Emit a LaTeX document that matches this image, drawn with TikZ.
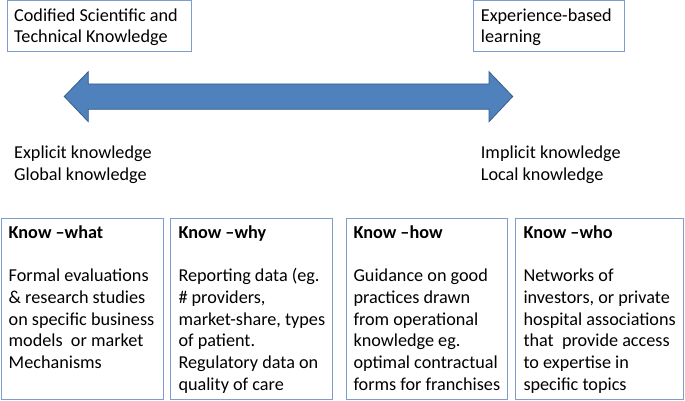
\documentclass[tikz,border=0pt]{standalone}
\usepackage{fontspec}
\setmainfont{Carlito}
\usepackage{xcolor}
\usepackage{tikz}

\definecolor{arrowblue}{RGB}{79,129,189}
\definecolor{arrowedge}{RGB}{56,93,138}
\definecolor{boxline}{RGB}{126,156,204}

\begin{document}
\begin{tikzpicture}[
  x=1pt, y=-1pt,
  frame/.style={draw=boxline, line width=0.8pt, anchor=north west, inner sep=0pt},
  txt/.style={anchor=north west, inner sep=0pt, align=left,
              font=\fontsize{18.2}{21.7}\selectfont},
  lbl/.style={anchor=north west, inner sep=0pt, align=left,
              font=\fontsize{18.2}{21.7}\selectfont}
]
\useasboundingbox (0,0) rectangle (685,401);

%% Top boxes
\node[frame, minimum width=184pt, minimum height=51pt] (cst) at (6.7,0.3) {};
\node[txt] (cst-t) at ([shift={(7.3,5.5)}]cst.north west)
  {\strut Codified Scientific and\\Technical Knowledge};

\node[frame, minimum width=151.3pt, minimum height=51pt] (ebl) at (472.7,0.3) {};
\node[txt] (ebl-t) at ([shift={(8,5.5)}]ebl.north west)
  {\strut Experience-based\\learning};

%% Double arrow
\filldraw[fill=arrowblue, draw=arrowedge, line width=0.8pt]
  (64.3,96.5) -- (88.3,71.7) -- (88.3,84) -- (489,84) -- (489,71.7)
  -- (512.7,96.5) -- (489,121.7) -- (489,109.3) -- (88.3,109.3)
  -- (88.3,121.7) -- cycle;

%% Side labels
\node[lbl] (expl) at (14,143.1) {\strut Explicit knowledge\\Global knowledge};
\node[lbl] (impl) at (480.7,143.1) {\strut Implicit knowledge\\Local knowledge};

%% Bottom boxes
\node[frame, minimum width=162pt, minimum height=181.5pt]   (kwhat) at (0.8,217.7) {};
\node[frame, minimum width=161.7pt, minimum height=181.5pt] (kwhy)  at (170,217.7) {};
\node[frame, minimum width=160.7pt, minimum height=181.5pt] (khow)  at (346,217.7) {};
\node[frame, minimum width=168.4pt, minimum height=181.5pt] (kwho)  at (515,217.7) {};

\node[txt] (kwhat-t) at ([shift={(7.7,5.4)}]kwhat.north west)
  {\strut\textbf{Know –what}\\[21.7pt]
   Formal evaluations\\\& research studies\\on specific business\\
   models\ \ or market\\Mechanisms};
\node[txt] (kwhy-t) at ([shift={(8.3,5.4)}]kwhy.north west)
  {\strut\textbf{Know –why}\\[21.7pt]
   Reporting data (eg.\\\# providers,\\market-share, types\\
   of patient.\\Regulatory data on\\quality of care};
\node[txt] (khow-t) at ([shift={(7.3,5.4)}]khow.north west)
  {\strut\textbf{Know –how}\\[21.7pt]
   Guidance on good\\practices drawn\\from operational\\
   knowledge eg.\\optimal contractual\\forms for franchises};
\node[txt] (kwho-t) at ([shift={(8.3,5.4)}]kwho.north west)
  {\strut\textbf{Know –who}\\[21.7pt]
   Networks of\\investors, or private\\hospital associations\\
   that\ \ provide access\\to expertise in\\specific topics};

\end{tikzpicture}
\end{document}
